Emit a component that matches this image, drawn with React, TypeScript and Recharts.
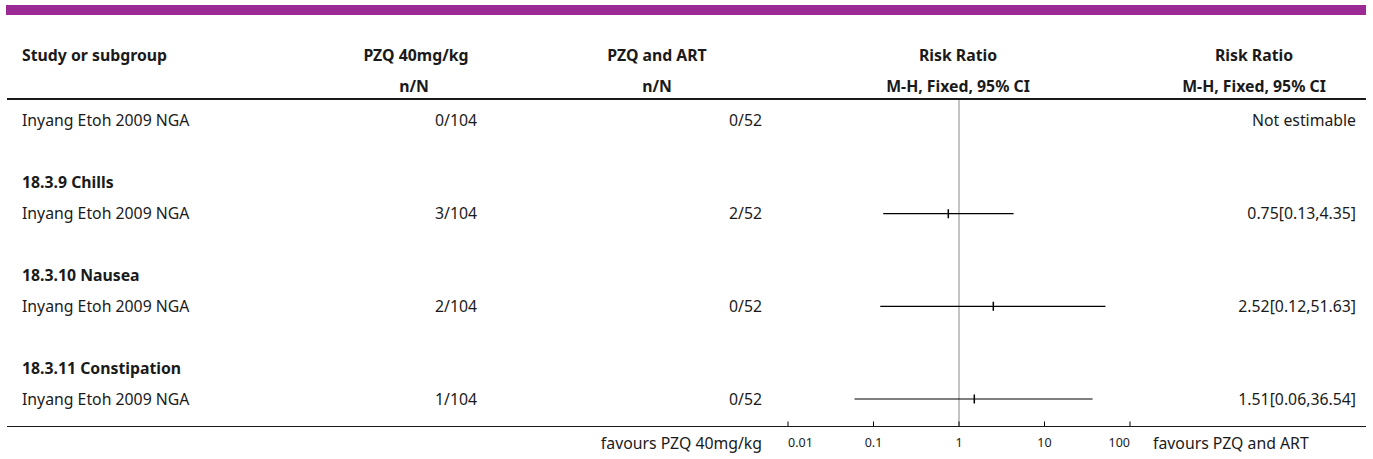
import { ScatterChart, Scatter, ErrorBar, XAxis, YAxis, ReferenceLine } from 'recharts';

const FONT = '"Noto Sans", Lato, sans-serif';
const INK = '#1a1a1a';
const PURPLE = '#9c2a95';
const BODY = 15.8;

// one entry per subgroup; the first one continues from the previous page, so it has no title
const subgroupTitles = ['', '18.3.9 Chills', '18.3.10 Nausea', '18.3.11 Constipation'];
const studyNames = ['Inyang Etoh 2009 NGA', 'Inyang Etoh 2009 NGA', 'Inyang Etoh 2009 NGA', 'Inyang Etoh 2009 NGA'];
const pzqCounts = ['0/104', '3/104', '2/104', '1/104'];
const artCounts = ['0/52', '2/52', '0/52', '0/52'];
const riskRatios: (number | null)[] = [null, 0.75, 2.52, 1.51];
const ciLower: (number | null)[] = [null, 0.13, 0.12, 0.06];
const ciUpper: (number | null)[] = [null, 4.35, 51.63, 36.54];
const axisTicks = [0.01, 0.1, 1, 10, 100];

type Row =
  | { kind: 'blank' }
  | { kind: 'heading'; title: string }
  | { kind: 'study'; group: number; name: string; pzq: string; art: string; result: string };

const resultText = (i: number) => {
  const rr = riskRatios[i];
  if (rr == null) return 'Not estimable';
  return `${rr.toFixed(2)}[${ciLower[i]!.toFixed(2)},${ciUpper[i]!.toFixed(2)}]`;
};

const rows: Row[] = [];
subgroupTitles.forEach((title, i) => {
  if (title) {
    rows.push({ kind: 'blank' });
    rows.push({ kind: 'heading', title });
  }
  rows.push({ kind: 'study', group: i, name: studyNames[i], pzq: pzqCounts[i], art: artCounts[i], result: resultText(i) });
});
const rowIds = rows.map((_, i) => i);

const forestData = rows.flatMap((r, row) => {
  if (r.kind !== 'study') return [];
  const rr = riskRatios[r.group];
  if (rr == null) return [];
  return [{ rr, row, ci: [rr - (ciLower[r.group] as number), (ciUpper[r.group] as number) - rr] }];
});

const textStyle = { fontFamily: FONT, fontSize: BODY, fill: INK };

const RowTick = (props: any) => {
  const { y, payload } = props;
  const row = rows[payload.value];
  if (!row || row.kind === 'blank') return <g />;
  if (row.kind === 'heading') {
    return (
      <text x={22} y={y} dy={5.5} textAnchor="start" fontWeight={700} {...textStyle}>
        {row.title}
      </text>
    );
  }
  return (
    <g>
      <text x={22} y={y} dy={5.5} textAnchor="start" {...textStyle}>{row.name}</text>
      <text x={477} y={y} dy={5.5} textAnchor="end" {...textStyle}>{row.pzq}</text>
      <text x={762} y={y} dy={5.5} textAnchor="end" {...textStyle}>{row.art}</text>
      <text x={1356} y={y} dy={5.5} textAnchor="end" {...textStyle}>{row.result}</text>
    </g>
  );
};

const LogTick = (props: any) => {
  const { x, y, payload, index } = props;
  const last = axisTicks.length - 1;
  const anchor = index === 0 ? 'start' : index === last ? 'end' : 'middle';
  return (
    <g>
      <line x1={x} x2={x} y1={y - 5} y2={y} stroke="#000" strokeWidth={1} />
      <text x={x} y={y} dy={20} textAnchor={anchor} fontFamily={FONT} fontSize={12.5} fill={INK}>
        {String(payload.value)}
      </text>
    </g>
  );
};

const headerStyle = (cx: number, top: number, w = 240): React.CSSProperties => ({
  position: 'absolute',
  left: cx - w / 2,
  top,
  width: w,
  textAlign: 'center',
  fontWeight: 700,
  fontSize: BODY,
  lineHeight: '20px',
});

const App = () => {
  return (
    <div
      style={{
        position: 'absolute',
        left: 0,
        top: 0,
        width: 1373,
        height: 459,
        background: '#fff',
        fontFamily: FONT,
        color: INK,
        overflow: 'hidden',
      }}
    >
      <div style={{ position: 'absolute', left: 0, top: 0 }}>
        <ScatterChart width={1373} height={459} margin={{ top: 99, right: 243, bottom: 2.5, left: 728 }}>
          <XAxis
            dataKey="rr"
            type="number"
            scale="log"
            domain={[0.01, 100]}
            ticks={axisTicks}
            allowDataOverflow
            axisLine={{ stroke: '#000', strokeWidth: 1 }}
            tickLine={false}
            tickSize={0}
            tickMargin={0}
            height={30}
            interval={0}
            tick={<LogTick />}
          />
          <YAxis
            dataKey="row"
            type="number"
            domain={[-0.712, 9.89]}
            reversed
            ticks={rowIds}
            interval={0}
            width={60}
            axisLine={false}
            tickLine={false}
            allowDataOverflow
            tick={<RowTick />}
          />
          <ReferenceLine x={1} stroke="#8a8a8a" strokeWidth={1} />
          <Scatter
            data={forestData}
            isAnimationActive={false}
            shape={(p: any) => (
              <line x1={p.cx} x2={p.cx} y1={p.cy - 4.5} y2={p.cy + 4.5} stroke="#000" strokeWidth={1.5} />
            )}
          >
            <ErrorBar dataKey="ci" direction="x" width={0} stroke="#000" strokeWidth={1.2} />
          </Scatter>
        </ScatterChart>
      </div>

      <div style={{ position: 'absolute', left: 6, top: 5, width: 1360, height: 10, background: PURPLE }} />

      <div style={{ position: 'absolute', left: 22, top: 45, fontWeight: 700, fontSize: BODY, lineHeight: '20px' }}>
        Study or subgroup
      </div>
      <div style={headerStyle(416, 45)}>PZQ 40mg/kg</div>
      <div style={headerStyle(414, 76)}>n/N</div>
      <div style={headerStyle(657, 45)}>PZQ and ART</div>
      <div style={headerStyle(657, 76)}>n/N</div>
      <div style={headerStyle(958, 45)}>Risk Ratio</div>
      <div style={headerStyle(958, 76)}>M-H, Fixed, 95% CI</div>
      <div style={headerStyle(1254, 45)}>Risk Ratio</div>
      <div style={headerStyle(1254, 76)}>M-H, Fixed, 95% CI</div>

      <div style={{ position: 'absolute', left: 7, top: 98, width: 1359, height: 1.6, background: INK }} />
      <div style={{ position: 'absolute', left: 7, top: 425.8, width: 1359, height: 1.5, background: INK }} />

      <div style={{ position: 'absolute', right: 1373 - 762, top: 433, fontSize: BODY, lineHeight: '20px' }}>
        favours PZQ 40mg/kg
      </div>
      <div style={{ position: 'absolute', left: 1153, top: 433, fontSize: BODY, lineHeight: '20px' }}>
        favours PZQ and ART
      </div>
    </div>
  );
};

export default App;
